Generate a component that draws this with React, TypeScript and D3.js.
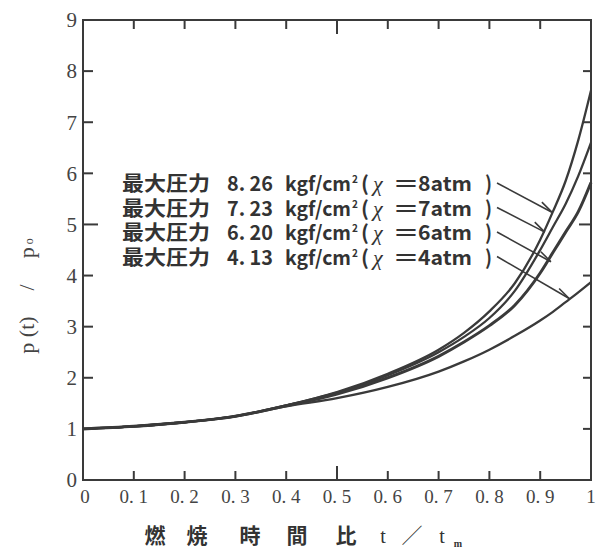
import React from "react";
import * as d3 from "d3";

const W = 602;
const H = 551;

const tValues = [0, 0.1, 0.2, 0.3, 0.4, 0.5, 0.6, 0.7, 0.75, 0.8, 0.85, 0.9, 0.925, 0.95, 0.975, 1.0];
const p8atm = [1, 1.05, 1.13, 1.25, 1.46, 1.72, 2.08, 2.55, 2.88, 3.3, 3.85, 4.7, 5.25, 5.85, 6.65, 7.62];
const p7atm = [1, 1.05, 1.13, 1.25, 1.46, 1.71, 2.05, 2.5, 2.8, 3.17, 3.7, 4.5, 4.95, 5.4, 5.95, 6.6];
const p6atm = [1, 1.05, 1.13, 1.25, 1.45, 1.68, 2.0, 2.42, 2.7, 3.02, 3.42, 4.05, 4.45, 4.85, 5.25, 5.82];
const p4atm = [1, 1.05, 1.13, 1.24, 1.44, 1.6, 1.82, 2.12, 2.32, 2.55, 2.82, 3.12, 3.29, 3.48, 3.67, 3.87];

const seriesValues = [p8atm, p7atm, p6atm, p4atm];
const seriesWidths = [2.3, 2.3, 3, 2.3];

const legendPressure = ["8. 26", "7. 23", "6. 20", "4. 13"];
const legendAtm = ["8atm", "7atm", "6atm", "4atm"];
// leader line end points on curves (t, p)
const leaderEndT = [0.923, 0.909, 0.921, 0.957];
const leaderEndP = [5.24, 4.85, 4.27, 3.55];

const xTicks = [0, 0.1, 0.2, 0.3, 0.4, 0.5, 0.6, 0.7, 0.8, 0.9, 1];
const xTickLabels = ["0", "0. 1", "0. 2", "0. 3", "0. 4", "0. 5", "0. 6", "0. 7", "0. 8", "0. 9", "1"];
const yTicks = [0, 1, 2, 3, 4, 5, 6, 7, 8, 9];

const xLabelChars = ["燃", "焼", "時", "間", "比"];

const x = d3.scaleLinear().domain([0, 1]).range([83, 591]);
const y = d3.scaleLinear().domain([0, 9]).range([480, 20]);

const INK = "#3a3a3a";
const SERIF = "'Liberation Serif', 'DejaVu Serif', serif";
const CJK = "'Noto Sans CJK JP', 'Noto Sans', sans-serif";

export default function App() {
  const line = d3
    .line<number>()
    .x((_, i) => x(tValues[i]))
    .y((d) => y(d))
    .curve(d3.curveMonotoneX);

  const rowY = (i: number) => 191 + i * 24.5;
  const xLabelX = [155, 197, 250, 297, 346];

  return (
    <svg width={W} height={H} style={{ position: "absolute", left: 0, top: 0, background: "#fff" }}>
      <rect x={0} y={0} width={W} height={H} fill="#fff" />
      {/* frame */}
      <rect x={x(0)} y={y(9)} width={x(1) - x(0)} height={y(0) - y(9)} fill="none" stroke={INK} strokeWidth={2} />
      {/* bottom & top ticks */}
      {xTicks.slice(1, -1).map((t) => {
        const len = t === 0.5 ? 14 : 9;
        return (
          <g key={"xt" + t}>
            <line x1={x(t)} x2={x(t)} y1={y(0)} y2={y(0) - len} stroke={INK} strokeWidth={2} />
            <line x1={x(t)} x2={x(t)} y1={y(9)} y2={y(9) + len} stroke={INK} strokeWidth={2} />
          </g>
        );
      })}
      {/* left & right ticks */}
      {yTicks.slice(1, -1).map((v) => {
        const len = v === 5 ? 15 : 10;
        return (
          <g key={"yt" + v}>
            <line x1={x(0)} x2={x(0) + len} y1={y(v)} y2={y(v)} stroke={INK} strokeWidth={2} />
            <line x1={x(1)} x2={x(1) - (v === 5 ? 12 : 8)} y1={y(v)} y2={y(v)} stroke={INK} strokeWidth={2} />
          </g>
        );
      })}
      {/* y tick labels */}
      {yTicks.map((v) => (
        <text key={"yl" + v} x={77} y={y(v)} dy="0.35em" textAnchor="end" fontFamily={SERIF} fontSize={21} fill="#444">
          {v}
        </text>
      ))}
      {/* x tick labels */}
      {xTicks.map((t, i) => (
        <text key={"xl" + t} x={x(t) + (i === 0 ? 2 : 0)} y={496} dy="0.35em" textAnchor="middle" fontFamily={SERIF} fontSize={19} fill="#444">
          {xTickLabels[i]}
        </text>
      ))}
      {/* curves */}
      {seriesValues.map((vals, i) => (
        <path key={"c" + i} d={line(vals) || ""} fill="none" stroke={INK} strokeWidth={seriesWidths[i]} />
      ))}
      {/* legend labels */}
      {legendPressure.map((p, i) => {
        const by = rowY(i);
        return (
          <text key={"lg" + i} y={by} fontFamily={CJK} fontWeight={700} fontSize={20} fill="#333" lengthAdjust="spacingAndGlyphs">
            <tspan x={122} textLength={88} lengthAdjust="spacingAndGlyphs">最大圧力</tspan>
            <tspan x={227} textLength={46} lengthAdjust="spacingAndGlyphs">{p}</tspan>
            <tspan x={285} textLength={66} lengthAdjust="spacingAndGlyphs">kgf/cm</tspan>
            <tspan x={352} dy={-8} fontSize={10}>2</tspan>
            <tspan x={361} dy={8} textLength={8} lengthAdjust="spacingAndGlyphs">(</tspan>
            <tspan x={373} fontFamily={SERIF} fontStyle="italic" fontWeight={400} fontSize={22}>χ</tspan>
            <tspan x={395} textLength={22} lengthAdjust="spacingAndGlyphs">=</tspan>
            <tspan x={418} textLength={54} lengthAdjust="spacingAndGlyphs">{legendAtm[i]}</tspan>
            <tspan x={485} textLength={7} lengthAdjust="spacingAndGlyphs">)</tspan>
          </text>
        );
      })}
      {/* leader lines */}
      {leaderEndT.map((t, i) => {
        const ex = x(t);
        const ey = y(leaderEndP[i]);
        const sx = 497;
        const sy = rowY(i) - 8;
        return (
          <g key={"ld" + i}>
            <line x1={sx} y1={sy} x2={ex} y2={ey} stroke={INK} strokeWidth={1.6} />
            <line x1={ex - 10} y1={ey - 10} x2={ex} y2={ey} stroke={INK} strokeWidth={1.6} />
          </g>
        );
      })}
      {/* y axis label */}
      <text
        transform="translate(34,296) rotate(-90)"
        textAnchor="middle"
        fontFamily={SERIF}
        fontSize={22}
        fill="#444"
      >
        <tspan>p (t)</tspan>
        <tspan dx={26}>/</tspan>
        <tspan dx={26}>p</tspan>
        <tspan fontSize={12} dy={-1}> o</tspan>
      </text>
      {/* x axis label */}
      <text y={536} dy="0.35em" fontFamily={CJK} fontWeight={700} fontSize={21} fill="#333" textAnchor="middle">
        {xLabelChars.map((c, i) => (
          <tspan key={"xc" + i} x={xLabelX[i]}>{c}</tspan>
        ))}
        <tspan x={383} fontFamily={SERIF} fontWeight={400} fontSize={20}>t</tspan>
        <tspan x={412} fontWeight={400}>／</tspan>
        <tspan x={442} fontFamily={SERIF} fontWeight={400} fontSize={20}>t</tspan>
        <tspan x={458} dy={4} fontFamily={SERIF} fontSize={10}>m</tspan>
      </text>
    </svg>
  );
}
